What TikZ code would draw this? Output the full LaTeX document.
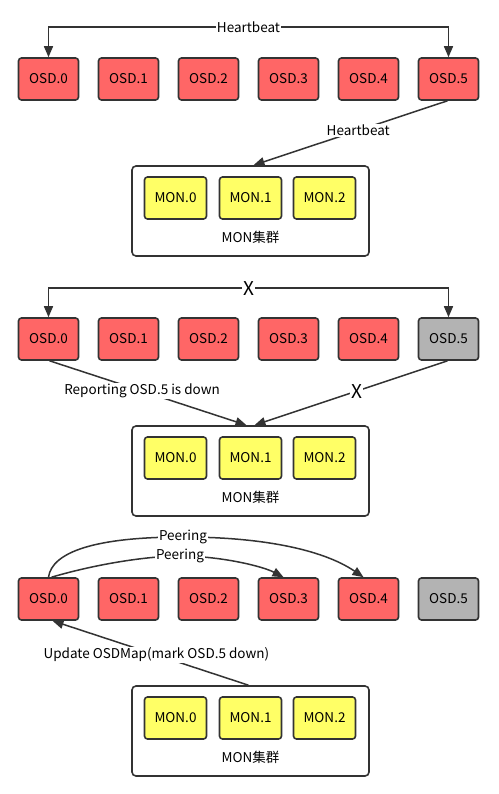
\documentclass[tikz,border=0pt]{standalone}
\usepackage{fontspec}
\setmainfont{Noto Sans CJK SC}
\usetikzlibrary{arrows.meta,calc}
\definecolor{dk}{HTML}{333333}
\definecolor{osdred}{HTML}{FF6666}
\definecolor{monyel}{HTML}{FFFF66}
\definecolor{downgray}{HTML}{B3B3B3}
\tikzset{
  txt/.style={font=\fontsize{13.5}{15}\selectfont},
  osd/.style={draw=dk, line width=1.6pt, rounded corners=3pt, minimum width=60pt, minimum height=42pt, fill=osdred, inner sep=0pt, txt},
  mon/.style={draw=dk, line width=1.6pt, rounded corners=3pt, minimum width=62pt, minimum height=42pt, fill=monyel, inner sep=0pt, txt},
  cluster/.style={draw=dk, line width=1.6pt, rounded corners=4pt, minimum width=237pt, minimum height=90pt, fill=white, inner sep=0pt},
  conn/.style={draw=dk, line width=1.5pt},
  lbl/.style={fill=white, inner sep=1pt, txt},
  xlbl/.style={fill=white, inner sep=1pt, font=\fontsize{19}{20}\selectfont},
}
\newcommand\mypanel[3]{%
  \foreach \i in {0,...,4} \node[osd] (#1\i) at (48.5+80*\i, 79+#2) {OSD.\i};
  \node[osd, fill=#3] (#15) at (448.5, 79+#2) {OSD.5};
  \node[cluster] (#1m) at (250.5, 211+#2) {};
  \foreach \j/\x in {0/175.5,1/250.5,2/324.5} \node[mon] (#1mon\j) at (\x, 198+#2) {MON.\j};
  \node[txt] (#1cl) at (250.5, 237+#2) {MON集群};
}
\begin{document}
\begin{tikzpicture}[x=1pt, y=-1pt, >={Triangle[length=11pt,width=9pt]}]
\useasboundingbox[fill=white] (0,0) rectangle (498,794);
% panel 1
\mypanel{a}{0}{osdred}
\draw[conn,<->] (a0.north) -- ([yshift=30pt]a0.north) -| (a5.north) node[lbl,pos=0.25]{Heartbeat};
\draw[conn,->] ([xshift=-1pt]a5.south) -- ([xshift=3pt]am.north) node[lbl,pos=0.46]{Heartbeat};
% panel 2
\mypanel{b}{260}{downgray}
\draw[conn,<->] (b0.north) -- ([yshift=29pt]b0.north) -| (b5.north) node[xlbl,pos=0.25]{X};
\draw[conn,->] ([xshift=1pt]b0.south) -- ([xshift=-4pt]bm.north) node[lbl,pos=0.47]{Reporting OSD.5 is down};
\draw[conn,->] ([xshift=-1pt]b5.south) -- ([xshift=4pt]bm.north) node[xlbl,pos=0.47]{X};
% panel 3
\mypanel{c}{520}{downgray}
\draw[conn,->] (c0.north) .. controls (52,552) and (95,537) .. (183,537) node[lbl]{Peering}
  .. controls (260,537) and (322,549) .. ([xshift=-5pt]c4.north);
\draw[conn,->] ([xshift=3pt]c0.north) .. controls (100,563) and (150,556) .. (180,556) node[lbl]{Peering}
  .. controls (220,556) and (262,566) .. ([xshift=-5pt]c3.north);
\draw[conn,->] ([xshift=-2pt]cm.north) -- ([xshift=4pt]c0.south) node[lbl,pos=0.47]{Update OSDMap(mark OSD.5 down)};
\end{tikzpicture}
\end{document}
